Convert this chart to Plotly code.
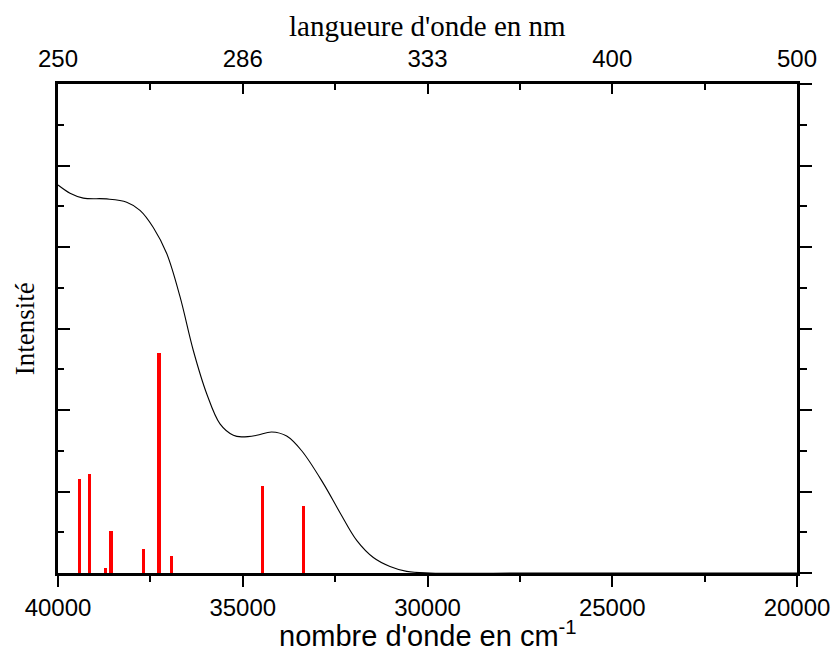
import plotly.graph_objects as go

# Spectrum (black curve)
curve_wn = [40000, 39675, 39315, 38682, 38141, 37781, 37421, 37058, 36698, 36338,
            35976, 35616, 35255, 35029, 34622, 34216, 33811, 33405, 32820,
            32368, 31916, 31466, 31015, 30563, 29932, 27000, 20000]
curve_int = [4.76, 4.66, 4.60, 4.59, 4.55, 4.45, 4.24, 3.92, 3.39, 2.73,
             2.20, 1.83, 1.69, 1.67, 1.69, 1.73, 1.68, 1.50, 1.10,
             0.74, 0.40, 0.19, 0.08, 0.02, 0.0, 0.0, 0.0]

# Transitions (red sticks)
stick_wn = [39423, 39143, 38720, 38566, 37681, 37267, 36933, 34471, 33361]
stick_int = [1.156, 1.213, 0.065, 0.51, 0.30, 2.70, 0.21, 1.066, 0.825]

# Axes
x_range = [40000, 20000]
x_ticks = [40000, 35000, 30000, 25000, 20000]
x_minor = [37500, 32500, 27500, 22500]
nm_labels = ["250", "286", "333", "400", "500"]
y_range = [0, 6]

fig = go.Figure()
fig.add_trace(go.Bar(x=stick_wn, y=stick_int, width=85, marker=dict(color="#ff0000", line=dict(width=0)),
                     showlegend=False, hoverinfo="skip"))
fig.add_trace(go.Scatter(x=curve_wn, y=curve_int, mode="lines",
                         line=dict(color="black", width=1.1, shape="spline", smoothing=1.0),
                         showlegend=False))
# invisible trace to activate top/right axes
fig.add_trace(go.Scatter(x=x_range, y=[y_range[0], y_range[0]], xaxis="x2", yaxis="y2", mode="lines",
                         line=dict(width=0, color="rgba(0,0,0,0)"), showlegend=False, hoverinfo="skip"))

tick_font = dict(family="Liberation Sans, Arial", size=24, color="black")
common = dict(showgrid=False, zeroline=False, showline=True, linecolor="black", linewidth=2.5,
              tickcolor="black", tickwidth=2, automargin=False)

fig.update_layout(
    width=834, height=652,
    margin=dict(l=58, r=37, t=84, b=79),
    plot_bgcolor="white", paper_bgcolor="white",
    bargap=0,
    xaxis=dict(range=x_range, tickvals=x_ticks, ticktext=[str(v) for v in x_ticks], ticks="outside", ticklen=11,
               tickfont=tick_font, minor=dict(tickvals=x_minor, ticks="outside", ticklen=6, tickcolor="black", tickwidth=2),
               **common),
    xaxis2=dict(range=x_range, overlaying="x", side="top", tickvals=x_ticks, ticktext=nm_labels, ticks="inside",
                ticklen=10, tickfont=tick_font, ticklabelstandoff=5,
                minor=dict(tickvals=x_minor, ticks="inside", ticklen=6, tickcolor="black", tickwidth=2),
                **common),
    yaxis=dict(range=y_range, dtick=1, tick0=0, showticklabels=False, ticks="inside", ticklen=12,
               minor=dict(dtick=0.5, tick0=0, ticks="inside", ticklen=6, tickcolor="black", tickwidth=2),
               **common),
    yaxis2=dict(range=y_range, overlaying="y", side="right", dtick=1, tick0=0, showticklabels=False,
                ticks="outside", ticklen=12,
                minor=dict(dtick=0.5, tick0=0, ticks="outside", ticklen=7, tickcolor="black", tickwidth=2),
                **common),
    annotations=[
        dict(text="langueure d'onde en nm", xref="paper", yref="paper", x=0.5, y=1.118, showarrow=False,
             font=dict(family="Liberation Serif, Times New Roman", size=29, color="black"), xanchor="center", yanchor="middle"),
        dict(text="nombre d'onde en cm<sup>-1</sup>", xref="paper", yref="paper", x=0.5, y=-0.124, showarrow=False,
             font=dict(family="Liberation Sans, Arial", size=29, color="black"), xanchor="center", yanchor="middle"),
        dict(text="Intensité", xref="paper", yref="paper", x=-0.045, y=0.50, showarrow=False, textangle=-90,
             font=dict(family="Liberation Serif, Times New Roman", size=27, color="black"), xanchor="center", yanchor="middle"),
    ],
)

fig.write_html("out.html")
